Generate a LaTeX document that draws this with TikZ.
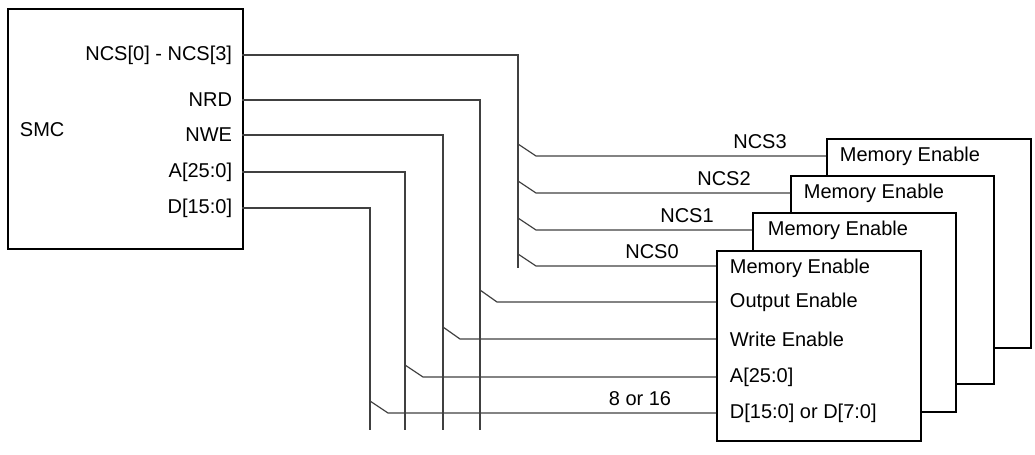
\documentclass[tikz,border=0pt]{standalone}
\usepackage{fontspec}
\setmainfont{Liberation Sans}
\begin{document}
\begin{tikzpicture}[x=0.75pt,y=-0.75pt,line width=0.9pt,
  lbl/.style={font=\fontsize{15}{17}\selectfont,inner sep=1pt},
  sig/.style={draw=black!75},
  mem/.style={draw,fill=white,line width=1.2pt}]
\useasboundingbox (0,0) rectangle (1035,454);
% SMC
\node[draw,line width=1.2pt,minimum width=176.25pt,minimum height=180pt,anchor=north west,inner sep=0] (smc) at (7,8) {};
\node[lbl,anchor=west] (smct) at (18,130) {SMC};
\foreach \n/\t/\y in {ncs/{NCS[0] - NCS[3]}/55, nrd/NRD/100, nwe/NWE/135, a/{A[25:0]}/172, d/{D[15:0]}/208}
  \node[lbl,anchor=east] (l\n) at (234,\y) {\t};
% memory boxes (back to front)
\node[mem,minimum width=153pt,minimum height=156.75pt,anchor=north west,inner sep=0] (m4) at (826,138) {};
\node[mem,minimum width=152.25pt,minimum height=156pt,anchor=north west,inner sep=0] (m3) at (790,175) {};
\node[mem,minimum width=152.25pt,minimum height=149.25pt,anchor=north west,inner sep=0] (m2) at (752,212) {};
\node[mem,minimum width=153pt,minimum height=142.5pt,anchor=north west,inner sep=0] (m1) at (716,250) {};
\node[lbl,anchor=west] (t4) at (838,156) {Memory Enable};
\node[lbl,anchor=west] (t3) at (802,193) {Memory Enable};
\node[lbl,anchor=west] (t2) at (766,230) {Memory Enable};
\foreach \n/\t/\y in {me/Memory Enable/268, oe/Output Enable/302, we/Write Enable/339, ad/{A[25:0]}/377, dd/{D[15:0] or D[7:0]}/413}
  \node[lbl,anchor=west] (p\n) at (728,\y) {\t};
% coordinates
\coordinate (s0) at (242,55); \coordinate (s1) at (242,100); \coordinate (s2) at (242,135);
\coordinate (s3) at (242,172); \coordinate (s4) at (242,208);
% buses
\draw[sig] (s0) -| (518,268) coordinate (bncs);
\draw[sig] (s1) -| (480,430) coordinate (bnrd);
\draw[sig] (s2) -| (443,430) coordinate (bnwe);
\draw[sig] (s3) -| (405,430) coordinate (ba);
\draw[sig] (s4) -| (370,430) coordinate (bd);
% branches
\draw[sig] (518,144) -- (536,156) -- (m4.west|-0,156);
\draw[sig] (518,181) -- (536,193) -- (m3.west|-0,193);
\draw[sig] (518,218) -- (536,230) -- (m2.west|-0,230);
\draw[sig] (518,254) -- (536,266) -- (m1.west|-0,266);
\draw[sig] (480,290) -- (497,302) -- (m1.west|-0,302);
\draw[sig] (443,327) -- (460,339) -- (m1.west|-0,339);
\draw[sig] (405,365) -- (423,377) -- (m1.west|-0,377);
\draw[sig] (370,401) -- (388,413) -- (m1.west|-0,413);
\node[lbl,anchor=south] (n3) at (760,151) {NCS3};
\node[lbl,anchor=south] (n2) at (724,188) {NCS2};
\node[lbl,anchor=south] (n1) at (687,225) {NCS1};
\node[lbl,anchor=south] (n0) at (652,261) {NCS0};
\node[lbl,anchor=south] (w) at (640,408) {8 or 16};
\end{tikzpicture}
\end{document}
